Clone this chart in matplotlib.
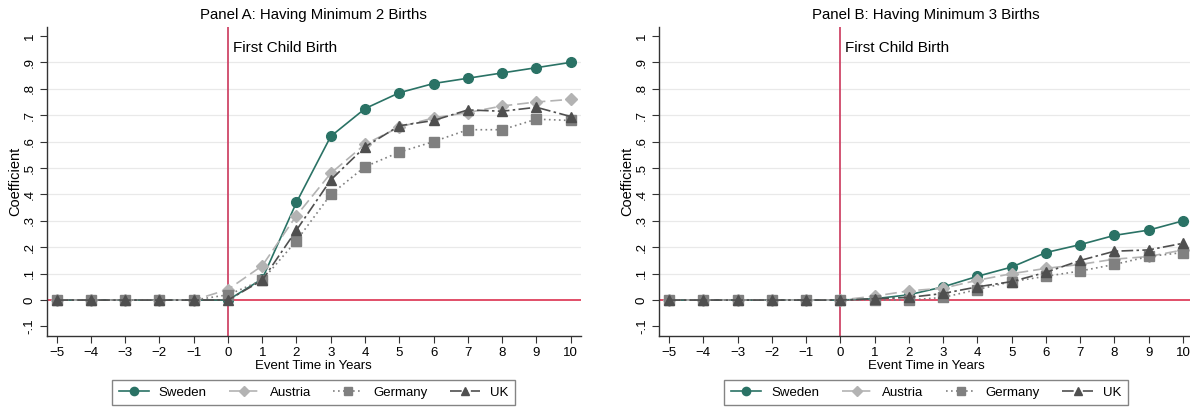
import numpy as np
import matplotlib
matplotlib.use("Agg")
import matplotlib.pyplot as plt

plt.rcParams['font.family'] = ['Liberation Sans', 'DejaVu Sans']

# event time relative to first birth
years = np.arange(-5, 11)

# Panel A: probability of having at least 2 births
sweden_a = [0, 0, 0, 0, 0, 0, 0.08, 0.37, 0.62, 0.725, 0.785, 0.82, 0.84, 0.86, 0.88, 0.90]
austria_a = [0, 0, 0, 0, 0, 0.04, 0.13, 0.32, 0.48, 0.59, 0.655, 0.69, 0.71, 0.735, 0.75, 0.76]
germany_a = [0, 0, 0, 0, 0, 0.02, 0.075, 0.225, 0.40, 0.505, 0.56, 0.60, 0.645, 0.645, 0.685, 0.68]
uk_a = [0, 0, 0, 0, 0, 0, 0.075, 0.265, 0.455, 0.58, 0.66, 0.68, 0.72, 0.715, 0.73, 0.695]

# Panel B: probability of having at least 3 births
sweden_b = [0, 0, 0, 0, 0, 0, 0.005, 0.02, 0.05, 0.09, 0.125, 0.18, 0.21, 0.245, 0.265, 0.30]
austria_b = [0, 0, 0, 0, 0, 0, 0.015, 0.035, 0.045, 0.075, 0.10, 0.12, 0.135, 0.155, 0.165, 0.19]
germany_b = [0, 0, 0, 0, 0, 0, 0.0, 0.0, 0.01, 0.04, 0.07, 0.09, 0.11, 0.135, 0.165, 0.18]
uk_b = [0, 0, 0, 0, 0, 0, 0.005, 0.01, 0.025, 0.05, 0.07, 0.105, 0.15, 0.185, 0.19, 0.215]

countries = ["Sweden", "Austria", "Germany", "UK"]
panel_titles = ["Panel A: Having Minimum 2 Births", "Panel B: Having Minimum 3 Births"]
yticks = np.round(np.arange(-0.1, 1.01, 0.1), 1)
ytick_labels = ["-.1", "0", ".1", ".2", ".3", ".4", ".5", ".6", ".7", ".8", ".9", "1"]

styles = {
    "Sweden": dict(color="#2a7265", marker="o", markersize=7, linestyle="-", linewidth=1.2),
    "Austria": dict(color="#b3b3b3", marker="D", markersize=6.5, linestyle=(0, (7, 3)), linewidth=1.2),
    "Germany": dict(color="#808080", marker="s", markersize=6.5, linestyle=(0, (1, 2)), linewidth=1.2),
    "UK": dict(color="#4f4f4f", marker="^", markersize=7, linestyle=(0, (7, 2, 1.5, 2)), linewidth=1.2),
}

fig = plt.figure(figsize=(11.9, 4.09), dpi=100)
axA = fig.add_axes([0.0392, 0.1785, 0.4487, 0.7555])
axB = fig.add_axes([0.5538, 0.1785, 0.4487, 0.7555])

panels = [
    (axA, [sweden_a, austria_a, germany_a, uk_a]),
    (axB, [sweden_b, austria_b, germany_b, uk_b]),
]

for i, (ax, series) in enumerate(panels):
    for yv in yticks[2:-1]:
        ax.axhline(yv, color="#e9e9e9", linewidth=0.9, zorder=0)
    ax.axhline(0, color="#d81e40", linewidth=1.1, zorder=1)
    ax.axvline(0, color="#cf4668", linewidth=1.3, zorder=1)

    for name, vals in zip(countries, series):
        ax.plot(years, vals, label=name, zorder=3, **styles[name])

    ax.text(0.15, 0.953, "First Child Birth", fontsize=11, va="center", ha="left")

    ax.set_xlim(-5.29, 10.29)
    ax.set_ylim(-0.136, 1.034)
    ax.set_xticks(years)
    ax.set_yticks(yticks)
    ax.set_yticklabels(ytick_labels, rotation=90, va="center")
    ax.tick_params(axis="both", labelsize=9.5, length=5, width=0.8, color="#333333", pad=3)
    for side in ["top", "right"]:
        ax.spines[side].set_visible(False)
    for side in ["left", "bottom"]:
        ax.spines[side].set_color("#333333")
        ax.spines[side].set_linewidth(1.0)

    ax.set_title(panel_titles[i], fontsize=10.8, pad=6)
    ax.set_xlabel("Event Time in Years", fontsize=9.5, labelpad=1)
    ax.set_ylabel("Coefficient", fontsize=10.5, labelpad=1)

    leg = ax.legend(loc="upper center", bbox_to_anchor=(0.5, -0.142), ncol=4,
                    fontsize=9.5, frameon=True, fancybox=False, edgecolor="#666666",
                    handlelength=2.3, columnspacing=1.7, handletextpad=0.75,
                    borderpad=0.5, borderaxespad=0, markerscale=0.85)
    leg.get_frame().set_linewidth(1.0)

fig.savefig("out.png", dpi=100)
